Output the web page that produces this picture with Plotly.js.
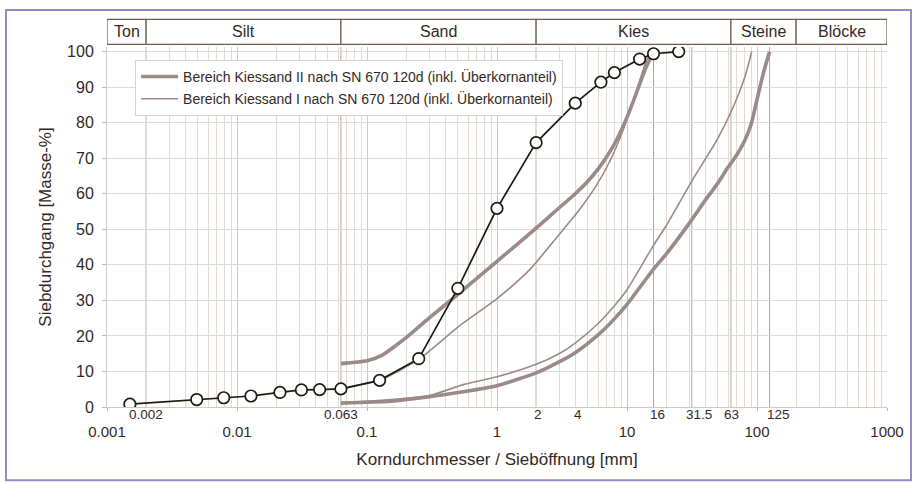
<!DOCTYPE html>
<html>
<head>
<meta charset="utf-8">
<script src="https://cdn.plot.ly/plotly-3.0.1.min.js"></script>
<style>html,body{margin:0;padding:0;background:#fff;}#chart{width:916px;height:483px;}</style>
</head>
<body>
<div id="chart"></div>
<script>
// Sample grading curve (open circles)
const sampleSize = [0.0015, 0.0049, 0.0079, 0.0128, 0.0214, 0.0313, 0.0432, 0.063, 0.125, 0.25, 0.5, 1, 2, 4, 6.3, 8, 12.5, 16, 25];
const samplePass = [0.8, 2.1, 2.6, 3.1, 4.1, 4.8, 4.9, 5.1, 7.5, 13.6, 33.4, 55.9, 74.4, 85.5, 91.4, 94.1, 97.9, 99.4, 100];

// Bereich Kiessand II (thick)
const k2UpperSize = [0.063, 0.1, 0.13, 0.16, 0.2, 0.3, 0.5, 1, 2, 3, 4, 5, 6, 7, 8, 10, 12, 14, 16];
const k2UpperPass = [12.2, 13.0, 14.5, 16.8, 19.5, 25, 31.7, 41, 50.3, 56, 60, 63.5, 67, 70.5, 74, 81.5, 89, 95.5, 100];
const k2LowerSize = [0.063, 0.15, 0.3, 0.55, 1, 2, 3, 4, 6, 8, 10, 16, 20, 30, 40, 50, 60, 70, 80, 90, 100, 112, 125];
const k2LowerPass = [1.1, 1.6, 2.9, 4.3, 6.0, 9.6, 12.7, 15.3, 20.3, 24.8, 28.9, 38.8, 43, 51.6, 58.2, 63, 67.5, 71, 74.8, 79.5, 86.5, 94, 100];

// Bereich Kiessand I (thin)
const k1UpperSize = [0.063, 0.126, 0.25, 0.5, 1.0, 1.77, 3, 4.3, 5.8, 7.3, 9.25, 11.7, 13.6, 15];
const k1UpperPass = [5.1, 7.6, 13.4, 22.5, 30.5, 38.5, 48.5, 55.5, 62.3, 68.8, 77.5, 88.4, 95.9, 100];
const k1LowerSize = [0.063, 0.3, 0.55, 1.0, 2, 3, 4, 6, 8, 10, 16, 20, 32, 49, 65.8, 80.9, 91];
const k1LowerPass = [1.1, 3.2, 6.3, 8.5, 12, 15, 18, 23.5, 28.5, 33, 45.5, 51, 64, 75, 84.5, 93, 100];

// Soil classes (top band)
const classNames = ["Ton", "Silt", "Sand", "Kies", "Steine", "Blöcke"];
const classBounds = [0.001, 0.002, 0.063, 2, 63, 200, 1000];

// Axis ticks
const decadeVals = [0.001, 0.01, 0.1, 1, 10, 100, 1000];
const decadeText = ["0.001", "0.01", "0.1", "1", "10", "100", "1000"];
const sieveVals = [0.002, 0.063, 2, 4, 16, 31.5, 63, 125];
const sieveText = ["0.002", "0.063", "2", "4", "16", "31.5", "63", "125"];
const sieveShift = [0, 0, 2, 3, 4, 7, 1, 9];
const specialLines = [0.002, 0.063, 2, 16, 31.5, 63, 125];
const yTicks = [0, 10, 20, 30, 40, 50, 60, 70, 80, 90, 100];

const minorVals = [];
decadeVals.slice(0, -1).forEach(d => { for (let m = 2; m <= 9; m++) minorVals.push(d * m); });

const envColor = '#9b8a88';
const txt = '#33291f';
const FONT = 'Liberation Sans, Arial, sans-serif';
const SM = 0.6;

const traces = [
  {x: k2UpperSize, y: k2UpperPass, mode: 'lines', line: {color: envColor, width: 3.6, shape: 'spline', smoothing: SM},
   name: 'Bereich Kiessand II nach SN 670 120d (inkl. Überkornanteil)', legendgroup: 'k2', showlegend: true, hoverinfo: 'skip'},
  {x: k2LowerSize, y: k2LowerPass, mode: 'lines', line: {color: envColor, width: 3.6, shape: 'spline', smoothing: SM},
   name: 'k2l', legendgroup: 'k2', showlegend: false, hoverinfo: 'skip'},
  {x: k1UpperSize, y: k1UpperPass, mode: 'lines', line: {color: envColor, width: 1.6, shape: 'spline', smoothing: SM},
   name: 'Bereich Kiessand I nach SN 670 120d (inkl. Überkornanteil)', legendgroup: 'k1', showlegend: true, hoverinfo: 'skip'},
  {x: k1LowerSize, y: k1LowerPass, mode: 'lines', line: {color: envColor, width: 1.6, shape: 'spline', smoothing: SM},
   name: 'k1l', legendgroup: 'k1', showlegend: false, hoverinfo: 'skip'},
  {x: sampleSize, y: samplePass, mode: 'lines+markers', line: {color: '#1c1a12', width: 1.7},
   marker: {symbol: 'circle', size: 11.5, color: '#ffffff', line: {color: '#1c1a12', width: 1.7}},
   name: 'Probe', showlegend: false, hoverinfo: 'skip'}
];

const shapes = [];
specialLines.forEach(v => shapes.push({type: 'line', xref: 'x', yref: 'paper', x0: v, x1: v, y0: 0, y1: 1,
  line: {color: '#b3a595', width: 1}, layer: 'below'}));
const bandY0 = 1.0075, bandY1 = 1.077;
for (let i = 0; i < classNames.length; i++) {
  shapes.push({type: 'rect', xref: 'x', yref: 'paper', x0: classBounds[i], x1: classBounds[i + 1], y0: bandY0, y1: bandY1,
    line: {color: '#6e5d4c', width: 1.2}, fillcolor: '#ffffff'});
}
shapes.push({type: 'rect', xref: 'paper', yref: 'paper', x0: -0.1295, x1: 1.0308, y0: -0.2038, y1: 1.1029,
  line: {color: '#8d8fc4', width: 2}, fillcolor: 'rgba(0,0,0,0)'});

const annotations = [];
for (let i = 0; i < classNames.length; i++) {
  const c = (Math.log10(classBounds[i]) + Math.log10(classBounds[i + 1])) / 2;
  annotations.push({xref: 'x', yref: 'paper', x: c, y: (bandY0 + bandY1) / 2, text: classNames[i], showarrow: false,
    font: {family: FONT, size: 16, color: txt}, xanchor: 'center', yanchor: 'middle'});
}
sieveVals.forEach((v, i) => annotations.push({xref: 'x', yref: 'paper', x: Math.log10(v), y: -0.02, text: sieveText[i],
  showarrow: false, xshift: sieveShift[i], font: {family: FONT, size: 13.5, color: txt}, xanchor: 'center', yanchor: 'middle'}));

const layout = {
  width: 916, height: 483,
  margin: {l: 107, r: 29, t: 47, b: 76},
  paper_bgcolor: '#ffffff', plot_bgcolor: '#ffffff',
  font: {family: FONT, color: txt},
  showlegend: true,
  legend: {x: 0.036, y: 0.964, xanchor: 'left', yanchor: 'top', bgcolor: '#ffffff', bordercolor: '#d6d2cc', borderwidth: 1,
    font: {family: FONT, size: 14, color: txt}, traceorder: 'grouped', tracegroupgap: 1, itemwidth: 37},
  xaxis: {type: 'log', range: [-3, 3], tickvals: decadeVals, ticktext: decadeText, tickfont: {family: FONT, size: 15, color: txt},
    showgrid: true, gridcolor: '#cfc6bd', gridwidth: 1, zeroline: false,
    ticks: 'outside', ticklen: 3, tickcolor: '#bbb', ticklabelstandoff: 8,
    showline: true, linecolor: '#d0cac4', linewidth: 1,
    minor: {tickvals: minorVals, showgrid: true, gridcolor: '#e2dbd3', gridwidth: 1, ticks: ''},
    title: {text: 'Korndurchmesser / Sieböffnung [mm]', font: {family: FONT, size: 17, color: txt}, standoff: 14}},
  yaxis: {range: [0, 101.3], tickvals: yTicks, tickfont: {family: FONT, size: 16, color: txt},
    showgrid: true, gridcolor: '#dcdcdc', gridwidth: 1, zeroline: false,
    ticks: 'outside', ticklen: 4, tickcolor: '#bbb', ticklabelstandoff: 5,
    showline: true, linecolor: '#d0cac4', linewidth: 1,
    title: {text: 'Siebdurchgang [Masse-%]', font: {family: FONT, size: 17, color: txt}, standoff: 11}},
  shapes: shapes,
  annotations: annotations
};

Plotly.newPlot('chart', traces, layout, {displayModeBar: false, staticPlot: true});
</script>
</body>
</html>
